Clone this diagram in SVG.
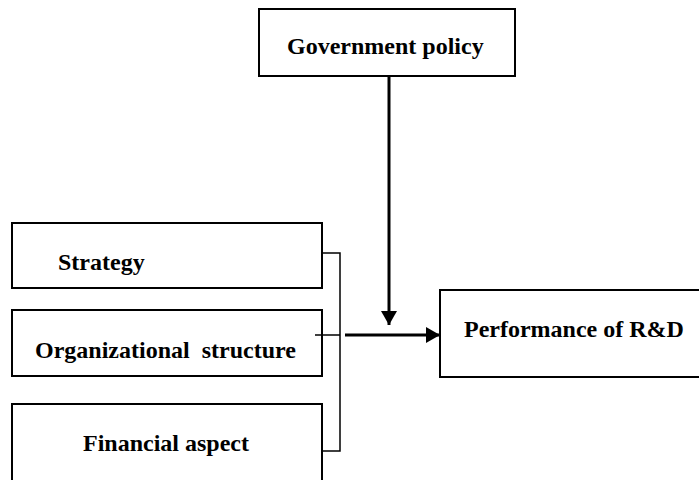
<svg xmlns="http://www.w3.org/2000/svg" width="699" height="480" viewBox="0 0 699 480">
<defs>
<style>
.box{fill:#fff;stroke:#000;stroke-width:2}
.t{font-family:'Liberation Serif',serif;font-weight:bold;font-size:24px;fill:#000}
.c{fill:none;stroke:#000;stroke-width:1.5}
.k{fill:none;stroke:#000;stroke-width:3}
</style>
<marker id="ah" markerUnits="userSpaceOnUse" markerWidth="14" markerHeight="16" refX="14" refY="8" orient="auto">
<path d="M0,0 L14,8 L0,16 Z" fill="#000"/>
</marker>
</defs>
<rect width="699" height="480" fill="#fff"/>
<g id="gov"><rect class="box" x="259" y="9" width="256" height="67"/><text class="t" x="287" y="54">Government policy</text></g>
<g id="strategy"><rect class="box" x="12" y="223" width="310" height="65"/><text class="t" x="58" y="270">Strategy</text></g>
<g id="org"><rect class="box" x="12" y="310" width="310" height="66"/><text class="t" x="35" y="358" xml:space="preserve">Organizational  structure</text></g>
<g id="fin"><rect class="box" x="12" y="404" width="310" height="80"/><text class="t" x="83" y="451">Financial aspect</text></g>
<g id="perf"><rect class="box" x="440" y="290" width="262" height="87"/><text class="t" x="464" y="337">Performance of R&amp;D</text></g>
<g id="connectors">
<path class="c" d="M322,253 H340 V451 H322 M315,335 H340"/>
<path class="k" d="M345,335 H440" marker-end="url(#ah)"/>
<path class="k" d="M389,77 V325" marker-end="url(#ah)"/>
</g>
</svg>
